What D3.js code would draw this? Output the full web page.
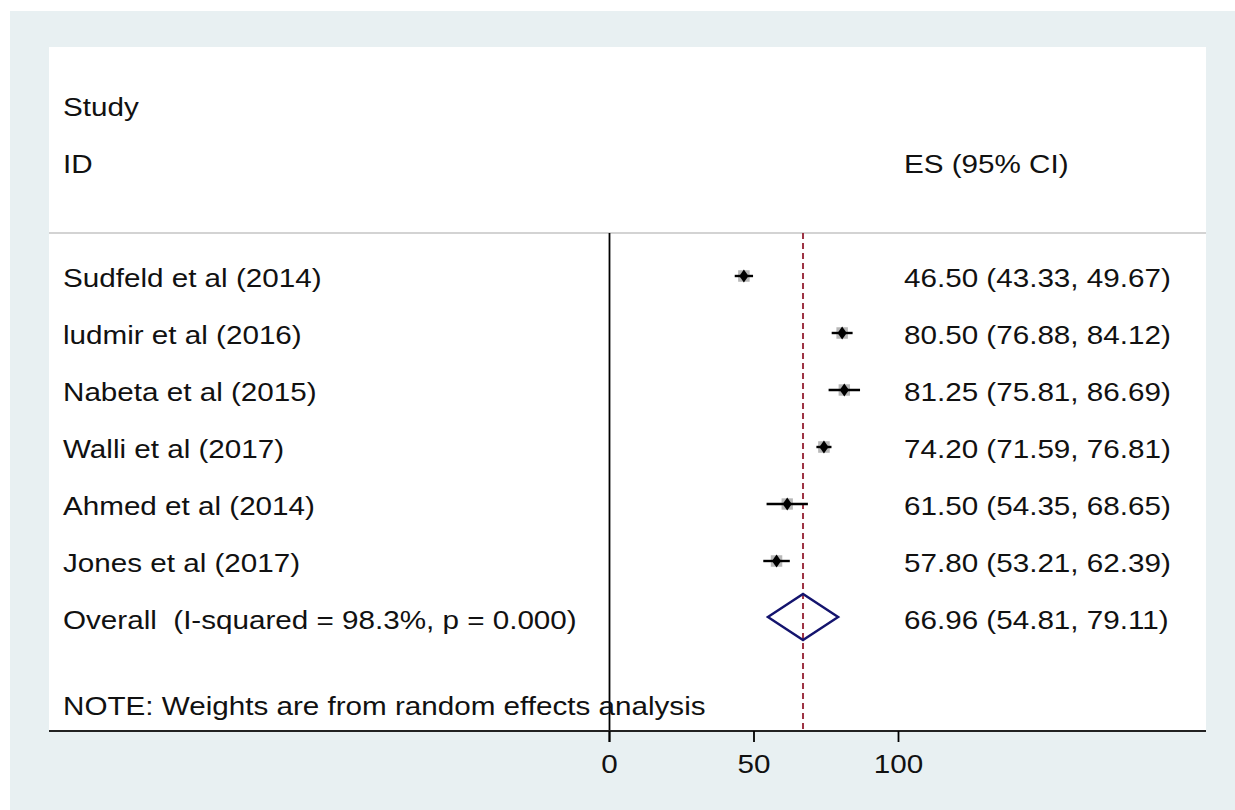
<!DOCTYPE html>
<html>
<head>
<meta charset="utf-8">
<script src="https://cdn.jsdelivr.net/npm/d3@7"></script>
<style>
  html, body { margin: 0; padding: 0; background: #ffffff; }
  svg { display: block; }
  text { font-family: "Liberation Sans", Arial, sans-serif; fill: #111; white-space: pre; }
</style>
</head>
<body>
<svg id="chart" width="1235" height="810"></svg>
<script>
// ---- data ----
const studies = ["Sudfeld et al (2014)", "ludmir et al (2016)", "Nabeta et al (2015)",
                 "Walli et al (2017)", "Ahmed et al (2014)", "Jones et al (2017)"];
const es    = [46.50, 80.50, 81.25, 74.20, 61.50, 57.80];
const ciLow = [43.33, 76.88, 75.81, 71.59, 54.35, 53.21];
const ciHigh= [49.67, 84.12, 86.69, 76.81, 68.65, 62.39];
const weights = [16.8, 16.7, 16.4, 16.9, 16.2, 16.6];
const overallLabel = "Overall  (I-squared = 98.3%, p = 0.000)";
const overall = [66.96, 54.81, 79.11];
const xTicks = [0, 50, 100];
const headerLeft = ["Study", "ID"];
const headerRight = "ES (95% CI)";
const note = "NOTE: Weights are from random effects analysis";

// ---- layout ----
const svg = d3.select("#chart");
const W = 1235, H = 810;
const panel = {x0: 49, y0: 47, x1: 1206, y1: 731};
const fs = 26, sx = 1.14;       // font size and horizontal stretch
const fmt = d3.format(".2f");
const rightX = 904;

svg.append("rect").attr("x", 0).attr("y", 0).attr("width", W).attr("height", H).attr("fill", "#ffffff");
svg.append("rect").attr("x", 10).attr("y", 11).attr("width", W - 10).attr("height", H - 11).attr("fill", "#e8f0f2");
svg.append("rect").attr("x", panel.x0).attr("y", panel.y0)
   .attr("width", panel.x1 - panel.x0).attr("height", panel.y1 - panel.y0).attr("fill", "#ffffff");

const x = d3.scaleLinear().domain([0, 100]).range([609.5, 898.5]);
// row index: studies 0..5, overall 6, note 7.5, headers -3, -2
const y = d3.scaleLinear().domain([0, 1]).range([276, 333]);

function label(txt, px, row, anchor) {
  svg.append("text")
    .attr("transform", `translate(${px},${y(row) + 11}) scale(${sx},1)`)
    .attr("text-anchor", anchor || "start")
    .attr("font-size", fs)
    .text(txt);
}

// header separator line
const sepY = 233;
svg.append("line").attr("x1", panel.x0).attr("x2", panel.x1).attr("y1", sepY).attr("y2", sepY)
   .attr("stroke", "#c4c4c4").attr("stroke-width", 1.6);

// headers
label(headerLeft[0], 63, -3);
label(headerLeft[1], 63, -2);
label(headerRight, rightX, -2);

// null line at 0
svg.append("line").attr("x1", x(0)).attr("x2", x(0)).attr("y1", sepY).attr("y2", panel.y1 + 11)
   .attr("stroke", "#000").attr("stroke-width", 1.8);

// overall dashed line
svg.append("line").attr("x1", x(overall[0])).attr("x2", x(overall[0]))
   .attr("y1", sepY).attr("y2", panel.y1)
   .attr("stroke", "#9e3344").attr("stroke-width", 2).attr("stroke-dasharray", "6,4");

// study rows
const boxSize = d3.scaleSqrt().domain([0, 16.7]).range([0, 11.5]);
studies.forEach((s, i) => {
  label(s, 63, i);
  label(`${fmt(es[i])} (${fmt(ciLow[i])}, ${fmt(ciHigh[i])})`, rightX, i);
  const b = boxSize(weights[i]);
  svg.append("rect").attr("x", x(es[i]) - b / 2).attr("y", y(i) - b / 2)
     .attr("width", b).attr("height", b).attr("fill", "#b8b8b8");
  svg.append("line").attr("x1", x(ciLow[i])).attr("x2", x(ciHigh[i]))
     .attr("y1", y(i)).attr("y2", y(i)).attr("stroke", "#000").attr("stroke-width", 2.4);
  svg.append("path")
     .attr("d", d3.symbol().type(d3.symbolDiamond).size(60)())
     .attr("transform", `translate(${x(es[i])},${y(i)}) scale(1.1,0.9)`)
     .attr("fill", "#000");
});

// overall row
label(overallLabel, 63, 6);
label(`${fmt(overall[0])} (${fmt(overall[1])}, ${fmt(overall[2])})`, rightX, 6);
const oy = y(6) - 1, dh = 23;
svg.append("path")
   .attr("d", `M${x(overall[1])},${oy} L${x(overall[0])},${oy - dh} L${x(overall[2])},${oy} L${x(overall[0])},${oy + dh} Z`)
   .attr("fill", "none").attr("stroke", "#14146e").attr("stroke-width", 2.4);

// note
label(note, 63, 7.5);

// x axis
svg.append("line").attr("x1", panel.x0).attr("x2", panel.x1).attr("y1", panel.y1).attr("y2", panel.y1)
   .attr("stroke", "#222").attr("stroke-width", 2);
const axis = svg.append("g");
xTicks.forEach(t => {
  axis.append("line").attr("x1", x(t)).attr("x2", x(t)).attr("y1", panel.y1).attr("y2", panel.y1 + 11)
      .attr("stroke", "#000").attr("stroke-width", 1.8);
  axis.append("text")
      .attr("transform", `translate(${x(t)},773) scale(${sx},1)`)
      .attr("text-anchor", "middle").attr("font-size", fs).text(t);
});
</script>
</body>
</html>
